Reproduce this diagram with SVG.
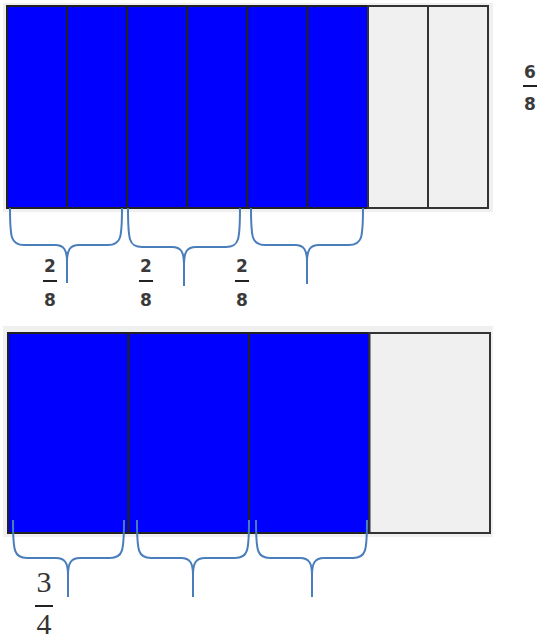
<svg xmlns="http://www.w3.org/2000/svg" width="537" height="642" viewBox="0 0 537 642">
<style>
.bg{fill:#f0f0f0}
.blue{fill:#0000ff;stroke:#222;stroke-width:2}
.empty{fill:#f0f0f0;stroke:#333;stroke-width:2}
.brace{fill:none;stroke:#4a7ebb;stroke-width:2;stroke-linecap:butt}
.fs{font-family:"DejaVu Sans","Liberation Sans",sans-serif;font-weight:bold;font-size:17px;fill:#3a3a3a;text-anchor:middle}
.ff{font-family:"Liberation Serif","DejaVu Serif",serif;font-size:30px;fill:#333;text-anchor:middle}
.bar{stroke:#222;stroke-width:2}
</style>
<rect width="537" height="642" fill="#fff"/>
<g id="top-bar">
<rect class="bg" x="3" y="3" width="490" height="209"/>
<rect class="blue" x="7" y="6" width="60.1" height="202"/>
<rect class="blue" x="67.1" y="6" width="60.1" height="202"/>
<rect class="blue" x="127.2" y="6" width="60.1" height="202"/>
<rect class="blue" x="187.3" y="6" width="60.1" height="202"/>
<rect class="blue" x="247.4" y="6" width="60.1" height="202"/>
<rect class="blue" x="307.5" y="6" width="60.5" height="202"/>
<rect class="empty" x="368" y="6" width="60" height="202"/>
<rect class="empty" x="428" y="6" width="60" height="202"/>
</g>
<g id="bottom-bar">
<rect class="bg" x="3" y="326" width="490" height="211"/>
<rect class="blue" x="8" y="333" width="120.5" height="200"/>
<rect class="blue" x="128.5" y="333" width="120.5" height="200"/>
<rect class="blue" x="249" y="333" width="120.5" height="200"/>
<rect class="empty" x="369.5" y="333" width="120.5" height="200"/>
</g>
<g id="connectors">
<path class="brace" d="M10,208 C10,238 11,245 24,245 H55 C64,245 67,250 67,262 V283 M122,208 C122,238 121,245 108,245 H79 C70,245 67,250 67,262"/>
<path class="brace" d="M128,208 C128,240 129,247 142,247 H172 C181,247 184,252 184,264 V286 M240,208 C240,240 239,247 226,247 H196 C187,247 184,252 184,264"/>
<path class="brace" d="M251,208 C251,238 252,245 265,245 H295 C304,245 307,250 307,262 V284 M363,208 C363,238 362,245 349,245 H319 C310,245 307,250 307,262"/>
<path class="brace" d="M13,520 C13,551 14,558 27,558 H56 C65,558 68,563 68,575 V597 M124,520 C124,551 123,558 110,558 H80 C71,558 68,563 68,575"/>
<path class="brace" d="M137,520 C137,551 138,558 151,558 H181 C190,558 193,563 193,575 V597 M249,520 C249,551 248,558 235,558 H205 C196,558 193,563 193,575"/>
<path class="brace" d="M256,520 C256,551 257,558 270,558 H300 C309,558 312,563 312,575 V597 M367,520 C367,551 366,558 353,558 H324 C315,558 312,563 312,575"/>
</g>
<g id="frac-6-8">
<text class="fs" x="530" y="78">6</text>
<line class="bar" x1="523" y1="86" x2="537" y2="86"/>
<text class="fs" x="530" y="110">8</text>
</g>
<g id="frac-2-8-a">
<text class="fs" x="50" y="272">2</text>
<line class="bar" x1="43" y1="281" x2="57" y2="281"/>
<text class="fs" x="50" y="306">8</text>
</g>
<g id="frac-2-8-b">
<text class="fs" x="146" y="272">2</text>
<line class="bar" x1="139" y1="281" x2="153" y2="281"/>
<text class="fs" x="146" y="306">8</text>
</g>
<g id="frac-2-8-c">
<text class="fs" x="242" y="272">2</text>
<line class="bar" x1="235" y1="281" x2="249" y2="281"/>
<text class="fs" x="242" y="306">8</text>
</g>
<g id="frac-3-4">
<text class="ff" x="44" y="592">3</text>
<line class="bar" x1="35" y1="606" x2="53" y2="606"/>
<text class="ff" x="44" y="634">4</text>
</g>
</svg>
